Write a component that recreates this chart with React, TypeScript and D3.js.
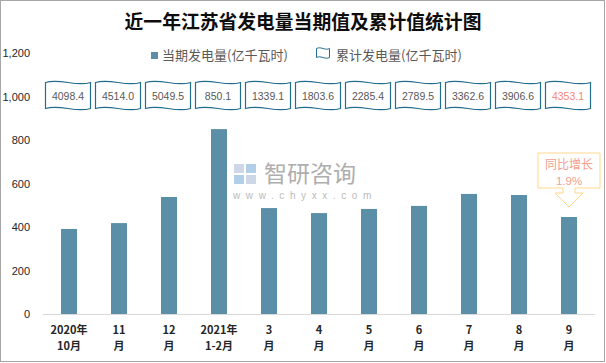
import React from 'react';
import * as d3 from 'd3';

// month labels, two lines each
const monthTop = ['2020年', '11', '12', '2021年', '3', '4', '5', '6', '7', '8', '9'];
const monthBottom = ['10月', '月', '月', '1-2月', '月', '月', '月', '月', '月', '月', '月'];
// 当期发电量 (亿千瓦时)
const currentValues = [391, 418, 538, 850.1, 487, 464, 483, 497, 552, 547, 446];
// 累计发电量 (亿千瓦时)
const cumulativeValues = ['4098.4', '4514.0', '5049.5', '850.1', '1339.1', '1803.6', '2285.4', '2789.5', '3362.6', '3906.6', '4353.1'];
const yTicks = [0, 200, 400, 600, 800, 1000, 1200];
const growthLabel = '1.9%';

const W = 606;
const H = 363;
const BAR = '#5B8FA7';
const FLAG = '#236E8E';
const CJK = '"Noto Sans CJK SC", "Noto Sans", sans-serif';
const NUM = '"Liberation Sans", Arial, sans-serif';

const flagPath = (cx: number, cy: number, w: number, h: number, a: number) => {
  const l = cx - w / 2, r = cx + w / 2, t = cy - h / 2, b = cy + h / 2;
  return `M${l},${t} C${l + w / 3},${t - 2 * a} ${l + (2 * w) / 3},${t + 2 * a} ${r},${t}` +
    ` L${r},${b} C${l + (2 * w) / 3},${b + 2 * a} ${l + w / 3},${b - 2 * a} ${l},${b} Z`;
};

export default function App() {
  const x = d3.scaleBand<string>()
    .domain(monthTop.map((_, i) => String(i)))
    .range([44, 594])
    .paddingInner(0.68)
    .paddingOuter(0.34);

  const y = d3.scaleLinear().domain([0, 1200]).range([314, 53]);

  const cx = (i: number) => (x(String(i)) ?? 0) + x.bandwidth() / 2;
  const last = currentValues.length - 1;
  const ax = cx(last);
  const boxTop = 153, boxBot = 188;

  const calloutPath = `M${ax - 31},${boxTop} L${ax + 31},${boxTop} L${ax + 31},${boxBot} L${ax + 6},${boxBot}` +
    ` L${ax + 6},${boxBot + 5} L${ax + 14},${boxBot + 5} L${ax},${boxBot + 19} L${ax - 14},${boxBot + 5}` +
    ` L${ax - 6},${boxBot + 5} L${ax - 6},${boxBot} L${ax - 31},${boxBot} Z`;

  return (
    <div style={{ position: 'fixed', left: 0, top: 0 }}>
      <svg width={W} height={H} style={{ display: 'block', background: '#fff' }}>
        <rect x={0.5} y={0.5} width={604} height={361} fill="#fff" stroke="#A6A6A6" />

        <text x={303} y={29} textAnchor="middle" fontFamily={CJK} fontWeight="bold" fontSize={18.8} fill="#0D0D0D">
          近一年江苏省发电量当期值及累计值统计图
        </text>

        {/* legend */}
        <rect x={151} y={52} width={7} height={7} fill={BAR} />
        <text x={162} y={60} fontFamily={CJK} fontSize={13} fill="#595959">当期发电量(亿千瓦时)</text>
        <path d={flagPath(323, 53, 13, 9, 1.2)} fill="#fff" stroke={FLAG} strokeWidth={1} />
        <text x={336} y={60} fontFamily={CJK} fontSize={13} fill="#595959">累计发电量(亿千瓦时)</text>

        {/* y axis labels */}
        {yTicks.map(t => (
          <text key={t} x={30} y={y(t) + 4} textAnchor="end" fontFamily={NUM} fontSize={11} fill="#262626">
            {d3.format(',')(t)}
          </text>
        ))}

        {/* watermark */}
        <g opacity={0.9}>
          <rect x={234} y={164} width={10} height={9} fill="#C9D3E6" />
          <rect x={246} y={164} width={10} height={9} fill="#A9CBE6" />
          <rect x={234} y={175} width={10} height={9} fill="#A9CBE6" />
          <rect x={246} y={175} width={10} height={9} fill="#C9D3E6" />
          <text x={264} y={182} fontFamily={CJK} fontSize={23} fill="#A6A6A6">智研咨询</text>
          <text x={233} y={199} fontFamily={NUM} fontSize={10} letterSpacing={5.6} fill="#B4B4B4">www.chyxx.com</text>
        </g>

        {/* bars */}
        {currentValues.map((v, i) => (
          <rect key={i} x={x(String(i))} y={y(v)} width={x.bandwidth()} height={y(0) - y(v)} fill={BAR} />
        ))}

        <line x1={43} x2={595} y1={314.5} y2={314.5} stroke="#D9D9D9" strokeWidth={1} />

        {/* cumulative flags */}
        {cumulativeValues.map((c, i) => (
          <g key={i}>
            <path d={flagPath(cx(i) - 1, 95.5, 45, 26, 2.4)} fill="#fff" stroke={FLAG} strokeWidth={1.2} />
            <text x={cx(i) - 1} y={99.5} textAnchor="middle" fontFamily={NUM} fontSize={10.5}
              fill={i === last ? '#F4877A' : '#595959'}>{c}</text>
          </g>
        ))}

        {/* x labels */}
        {monthTop.map((m, i) => (
          <text key={i} textAnchor="middle" fontFamily={CJK} fontWeight="bold" fontSize={11} fill="#262626">
            <tspan x={cx(i)} y={334}>{m}</tspan>
            <tspan x={cx(i)} y={350}>{monthBottom[i]}</tspan>
          </text>
        ))}

        {/* YoY callout */}
        <path d={calloutPath} fill="#fff" stroke="#FFD88C" strokeWidth={1} />
        <text x={ax} y={169} textAnchor="middle" fontFamily={CJK} fontSize={12} fill="#F4A08E">同比增长</text>
        <text x={ax} y={185} textAnchor="middle" fontFamily={NUM} fontSize={11.5} fill="#F4A08E">{growthLabel}</text>
      </svg>
    </div>
  );
}
